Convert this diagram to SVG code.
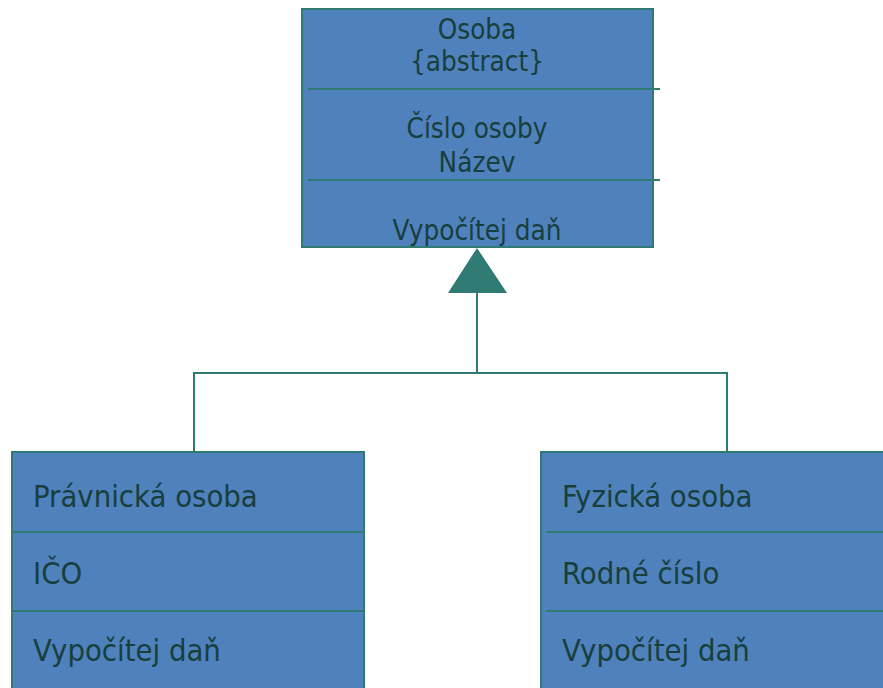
<svg xmlns="http://www.w3.org/2000/svg" width="883" height="688" viewBox="0 0 883 688">
<style>
.box{fill:#4f81bd;stroke:#2f7a72;stroke-width:2}
.div{stroke:#2f7a72;stroke-width:2;fill:none}
.conn{stroke:#2f7a72;stroke-width:2;fill:none}
text{font-family:"DejaVu Sans Condensed","DejaVu Sans",Verdana,sans-serif;font-stretch:condensed;font-size:27.6px;fill:#183f3c}
.big{font-size:30.7px}
.c{text-anchor:middle}
</style>
<rect width="883" height="688" fill="#ffffff"/>
<g id="connectors">
<line class="conn" x1="477" y1="292" x2="477" y2="373"/>
<polyline class="conn" points="194,452 194,373 727,373 727,452"/>
<polygon points="477,248 448,293 507,293" fill="#2f7a72"/>
</g>
<g id="osoba">
<rect class="box" x="302" y="9" width="351" height="238"/>
<line class="div" x1="308" y1="89" x2="660" y2="89"/>
<line class="div" x1="308" y1="180" x2="660" y2="180"/>
<text class="c" x="477" y="39">Osoba</text>
<text class="c" x="477" y="71">{abstract}</text>
<text class="c" x="477" y="138">Číslo osoby</text>
<text class="c" x="477" y="172">Název</text>
<text class="c" x="477" y="240">Vypočítej daň</text>
</g>
<g id="pravnicka">
<rect class="box" x="12" y="452" width="352" height="250"/>
<line class="div" x1="12" y1="532" x2="364" y2="532"/>
<line class="div" x1="12" y1="611" x2="364" y2="611"/>
<text class="big" x="33" y="507">Právnická osoba</text>
<text class="big" x="33" y="584">IČO</text>
<text class="big" x="33" y="661">Vypočítej daň</text>
</g>
<g id="fyzicka">
<rect class="box" x="541" y="452" width="360" height="250"/>
<line class="div" x1="546" y1="532" x2="890" y2="532"/>
<line class="div" x1="546" y1="611" x2="890" y2="611"/>
<text class="big" x="562" y="507">Fyzická osoba</text>
<text class="big" x="562" y="584">Rodné číslo</text>
<text class="big" x="562" y="661">Vypočítej daň</text>
</g>
</svg>
